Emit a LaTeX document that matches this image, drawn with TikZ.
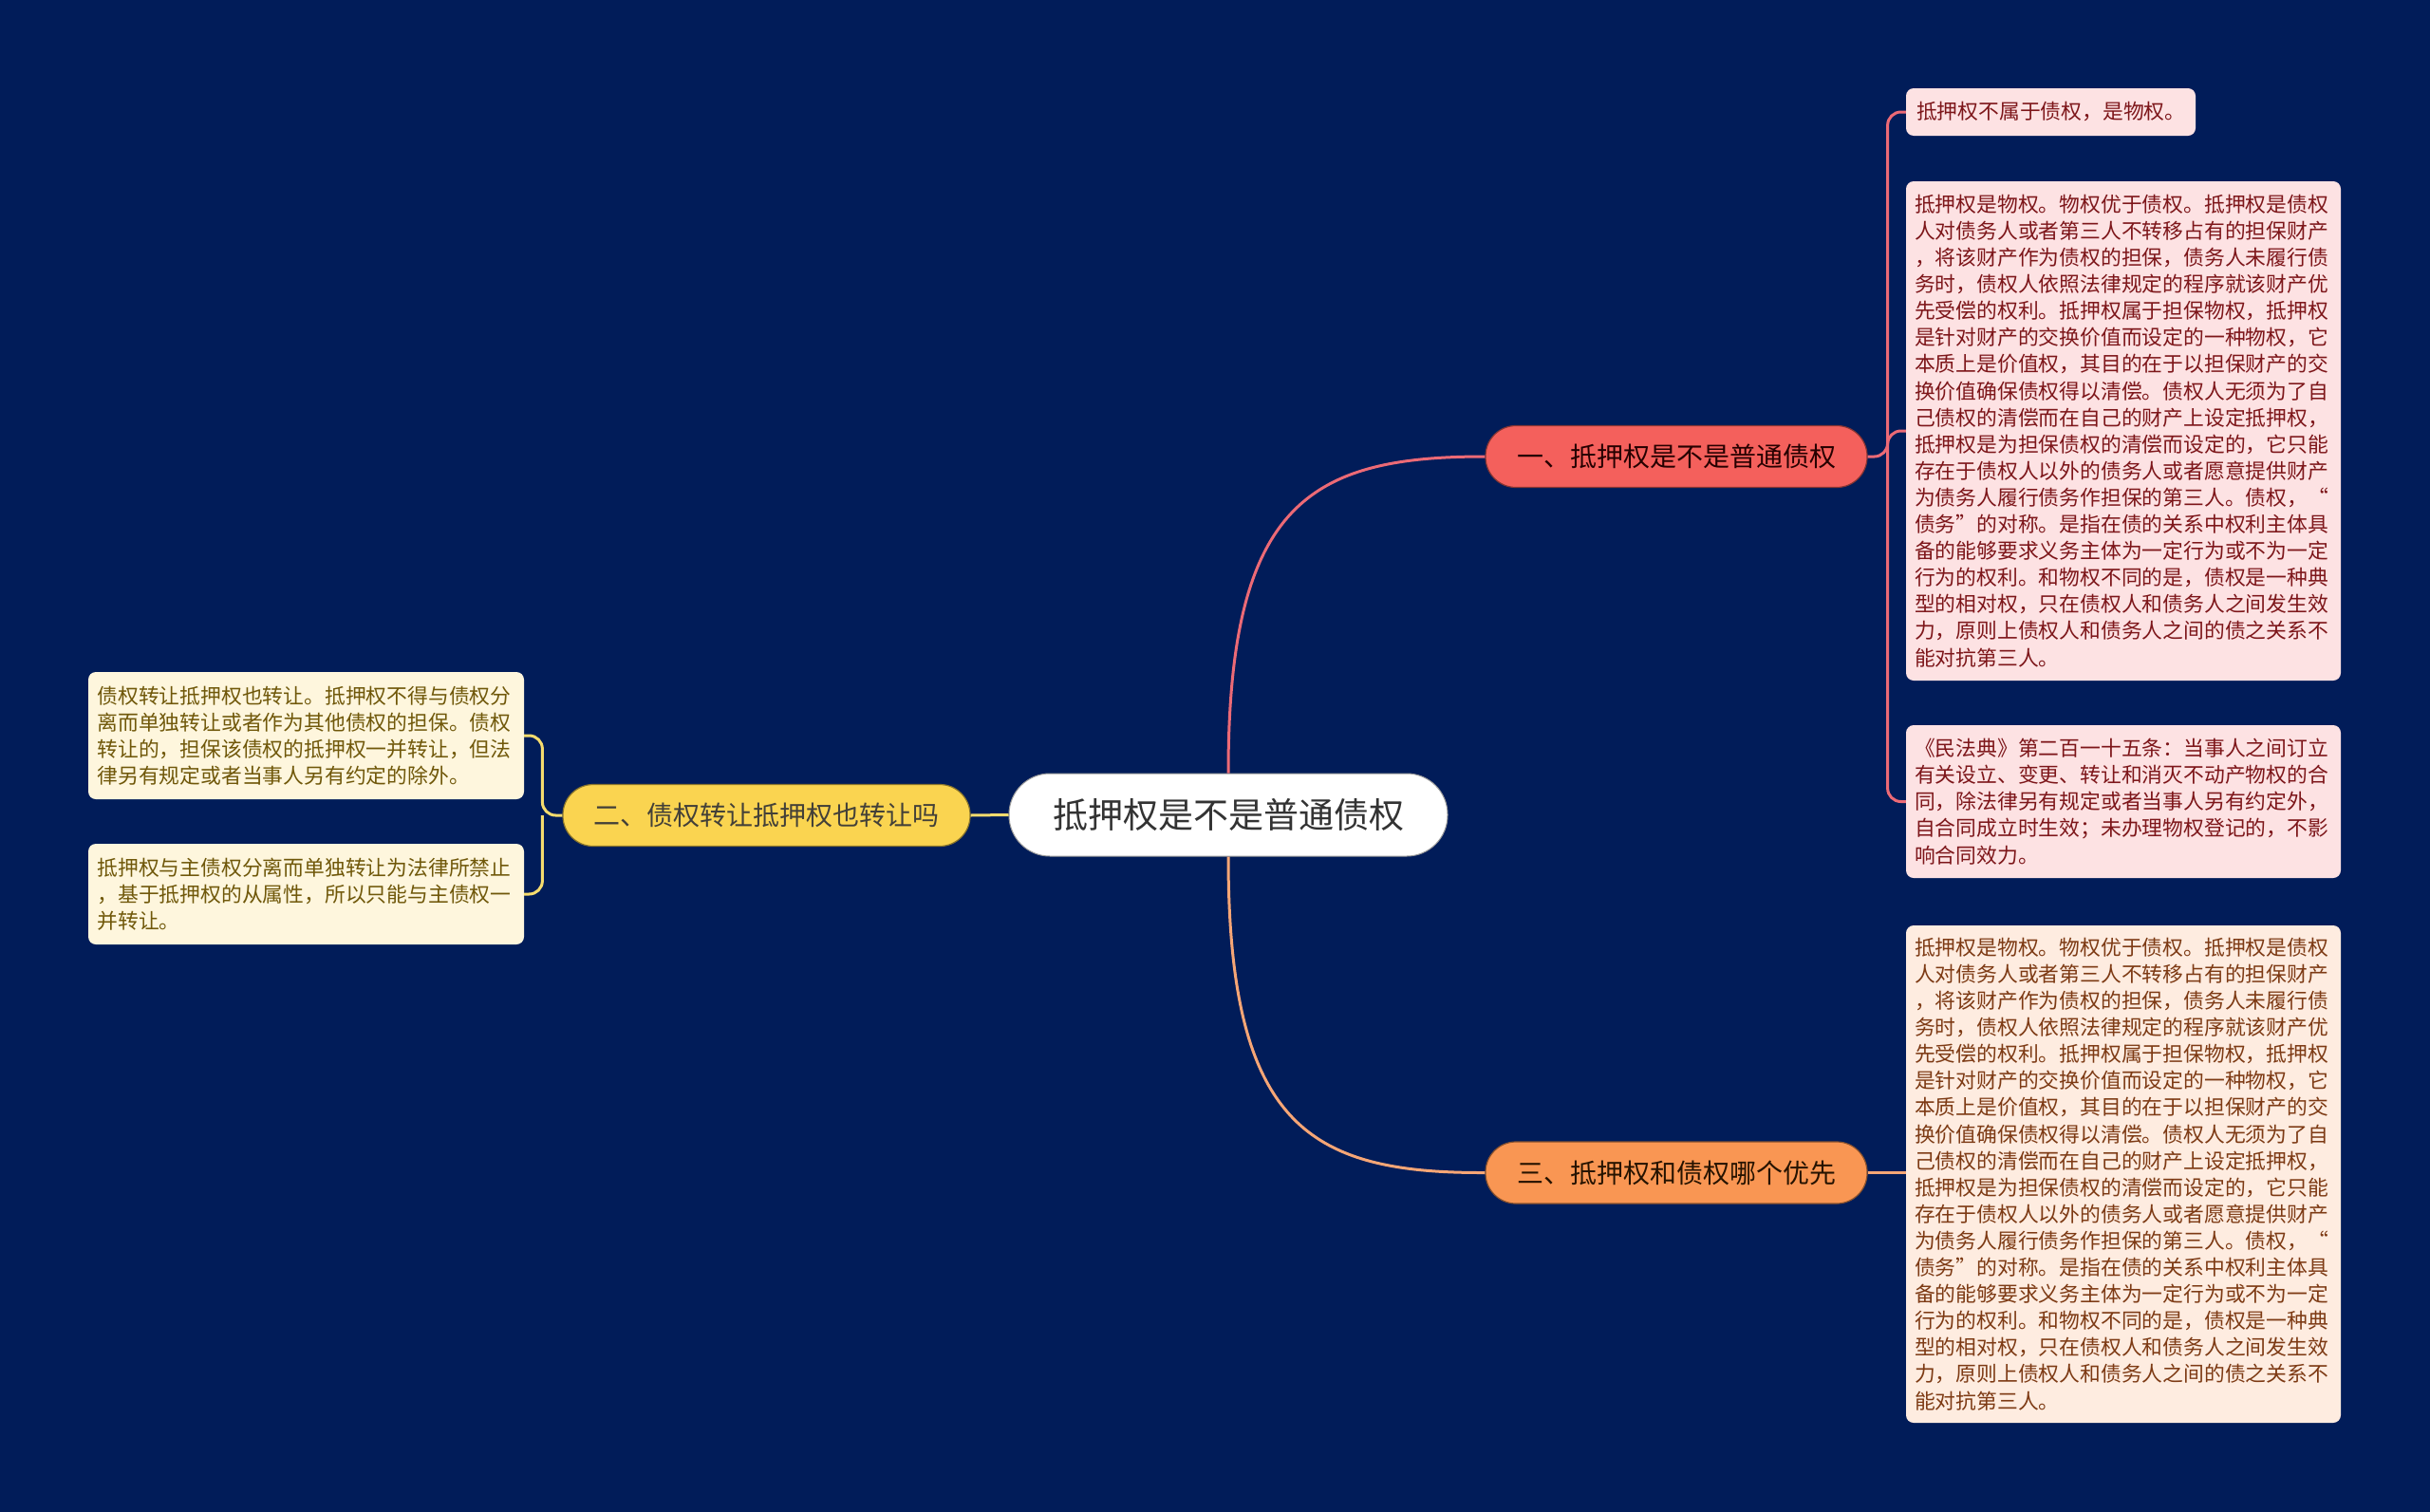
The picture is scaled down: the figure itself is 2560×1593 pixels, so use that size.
\documentclass[tikz,border=0pt]{standalone}
\usepackage{fontspec}
\setmainfont{Noto Sans CJK SC}

\definecolor{navy}{RGB}{1,28,89}
\definecolor{redfill}{RGB}{244,96,92}
\definecolor{redline}{RGB}{236,106,118}
\definecolor{redleaf}{RGB}{253,226,227}
\definecolor{redtext}{RGB}{125,22,26}
\definecolor{orangefill}{RGB}{249,150,83}
\definecolor{orangeline}{RGB}{246,166,118}
\definecolor{orangeleaf}{RGB}{254,236,224}
\definecolor{orangetext}{RGB}{125,58,20}
\definecolor{yellowfill}{RGB}{250,212,80}
\definecolor{yellowline}{RGB}{246,220,110}
\definecolor{yellowleaf}{RGB}{254,246,221}
\definecolor{yellowtext}{RGB}{112,88,10}

\begin{document}
\begin{tikzpicture}[x=1pt,y=-1pt]
  \tikzstyle{root}=[fill=white,draw=black!40,line width=1pt,rounded corners=43pt,
    minimum width=462pt,minimum height=87pt,text=black!80,font=\fontsize{37pt}{44pt}\selectfont]
  \tikzstyle{topic}=[line width=1.2pt,rounded corners=32pt,minimum width=402pt,
    minimum height=65pt,font=\fontsize{28pt}{34pt}\selectfont]
  \tikzstyle{leaf}=[rounded corners=8pt,inner xsep=9pt,inner ysep=6pt,align=left,
    text width=440pt,minimum width=458pt,font=\fontsize{21.8pt}{28.1pt}\selectfont]
  \tikzstyle{link}=[line width=3pt]
  \def\gap{21}

  \useasboundingbox (0,0) rectangle (2560,1593);
  \fill [navy] (0,0) rectangle (2560,1593);

  % main topic and the three branches
  \node [root] (root) at (1294,858.5) {抵押权是不是普通债权} ;
  \node [topic,fill=redfill,draw=redfill!55!black,text=black!85!red] (b1) at (1766,481)
    {一、抵押权是不是普通债权} ;
  \node [topic,fill=yellowfill,draw=yellowfill!55!black,text=black!85!yellow,
    minimum width=429pt] (b2) at (807.5,859) {二、债权转让抵押权也转让吗} ;
  \node [topic,fill=orangefill,draw=orangefill!55!black,text=black!85!orange] (b3)
    at (1766,1235.5) {三、抵押权和债权哪个优先} ;

  \path [draw,link,redline] (root.north) .. controls (1294,530) and (1380,481) .. (b1.west) ;
  \path [draw,link,orangeline] (root.south) .. controls (1294,1187) and (1380,1236) .. (b3.west) ;
  \path [draw,link,yellowline] (root.west) -- (b2.east) ;

  % details of branch one
  \node [leaf,fill=redleaf,text=redtext,text width=283pt,minimum width=305pt,
    minimum height=50pt,inner xsep=11pt] (la) at (2160.5,118)
    {抵押权不属于债权，是物权。} ;
  \node [leaf,fill=redleaf,text=redtext,minimum height=526pt] (lb) at (2237,454)
    {抵押权是物权。物权优于债权。抵押权是债权\\
     人对债务人或者第三人不转移占有的担保财产\\
     ，将该财产作为债权的担保，债务人未履行债\\
     务时，债权人依照法律规定的程序就该财产优\\
     先受偿的权利。抵押权属于担保物权，抵押权\\
     是针对财产的交换价值而设定的一种物权，它\\
     本质上是价值权，其目的在于以担保财产的交\\
     换价值确保债权得以清偿。债权人无须为了自\\
     己债权的清偿而在自己的财产上设定抵押权，\\
     抵押权是为担保债权的清偿而设定的，它只能\\
     存在于债权人以外的债务人或者愿意提供财产\\
     为债务人履行债务作担保的第三人。债权，“\\
     债务”的对称。是指在债的关系中权利主体具\\
     备的能够要求义务主体为一定行为或不为一定\\
     行为的权利。和物权不同的是，债权是一种典\\
     型的相对权，只在债权人和债务人之间发生效\\
     力，原则上债权人和债务人之间的债之关系不\\
     能对抗第三人。} ;
  \node [leaf,fill=redleaf,text=redtext,minimum height=161pt] (lc) at (2237,844.5)
    {《民法典》第二百一十五条：当事人之间订立\\
     有关设立、变更、转让和消灭不动产物权的合\\
     同，除法律另有规定或者当事人另有约定外，\\
     自合同成立时生效；未办理物权登记的，不影\\
     响合同效力。} ;

  \path (b1.east) -- ++(\gap,0) coordinate (j1) ;
  \path [draw,link,redline,rounded corners=14pt] (b1.east) -- (j1) |- (la.west) ;
  \path [draw,link,redline,rounded corners=14pt] (j1) |- (lb.west) ;
  \path [draw,link,redline,rounded corners=14pt] (j1) |- (lc.west) ;

  % details of branch two
  \node [leaf,fill=yellowleaf,text=yellowtext,minimum width=459pt,minimum height=134pt]
    (le) at (322.5,775)
    {债权转让抵押权也转让。抵押权不得与债权分\\
     离而单独转让或者作为其他债权的担保。债权\\
     转让的，担保该债权的抵押权一并转让，但法\\
     律另有规定或者当事人另有约定的除外。} ;
  \node [leaf,fill=yellowleaf,text=yellowtext,minimum width=459pt,minimum height=106pt]
    (lf) at (322.5,942)
    {抵押权与主债权分离而单独转让为法律所禁止\\
     ，基于抵押权的从属性，所以只能与主债权一\\
     并转让。} ;

  \path (b2.west) -- ++(-\gap,0) coordinate (j2) ;
  \path [draw,link,yellowline,rounded corners=14pt] (b2.west) -- (j2) |- (le.east) ;
  \path [draw,link,yellowline,rounded corners=14pt] (j2) |- (lf.east) ;

  % details of branch three
  \node [leaf,fill=orangeleaf,text=orangetext,minimum height=524pt] (ld) at (2237,1237)
    {抵押权是物权。物权优于债权。抵押权是债权\\
     人对债务人或者第三人不转移占有的担保财产\\
     ，将该财产作为债权的担保，债务人未履行债\\
     务时，债权人依照法律规定的程序就该财产优\\
     先受偿的权利。抵押权属于担保物权，抵押权\\
     是针对财产的交换价值而设定的一种物权，它\\
     本质上是价值权，其目的在于以担保财产的交\\
     换价值确保债权得以清偿。债权人无须为了自\\
     己债权的清偿而在自己的财产上设定抵押权，\\
     抵押权是为担保债权的清偿而设定的，它只能\\
     存在于债权人以外的债务人或者愿意提供财产\\
     为债务人履行债务作担保的第三人。债权，“\\
     债务”的对称。是指在债的关系中权利主体具\\
     备的能够要求义务主体为一定行为或不为一定\\
     行为的权利。和物权不同的是，债权是一种典\\
     型的相对权，只在债权人和债务人之间发生效\\
     力，原则上债权人和债务人之间的债之关系不\\
     能对抗第三人。} ;

  \path [draw,link,orangeline] (b3.east) -- (b3.east -| ld.west) ;

\end{tikzpicture}
\end{document}
